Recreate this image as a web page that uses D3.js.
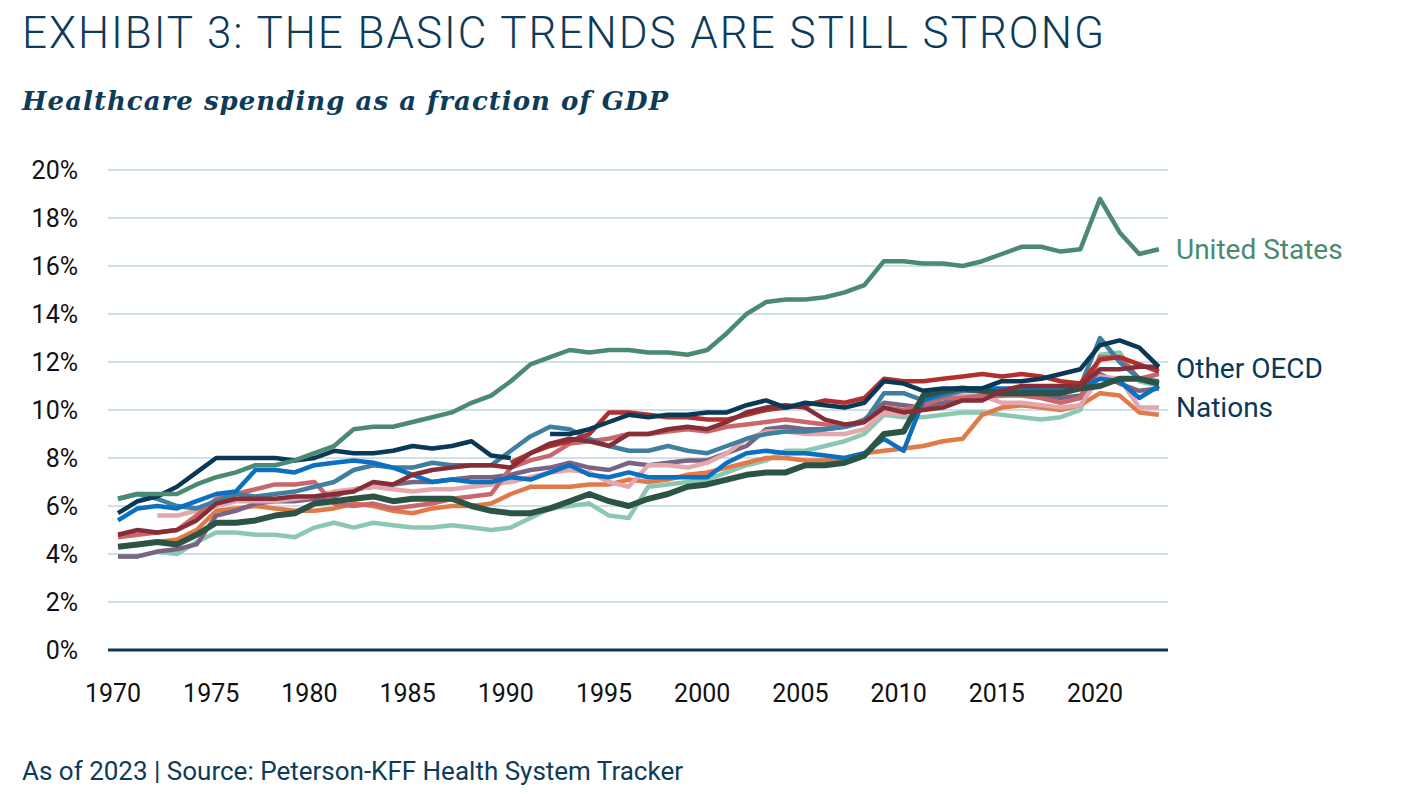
<!DOCTYPE html>
<html>
<head>
<meta charset="utf-8">
<script src="https://cdn.jsdelivr.net/npm/d3@7"></script>
<style>
  body { margin: 0; background: #fff; }
  text { font-family: "Liberation Sans Narrow", "Roboto", sans-serif; }
</style>
</head>
<body>
<svg id="chart" width="1401" height="794"></svg>
<script>
// years 1970..2023
var years = d3.range(1970, 2024);

var mint = [3.9,3.9,4.1,4.0,4.5,4.9,4.9,4.8,4.8,4.7,5.1,5.3,5.1,5.3,5.2,5.1,5.1,5.2,5.1,5.0,5.1,5.5,5.9,6.0,6.1,5.6,5.5,6.8,6.9,7.0,7.1,7.4,7.7,7.9,8.3,8.3,8.5,8.7,9.0,9.8,9.7,9.7,9.8,9.9,9.9,9.8,9.7,9.6,9.7,10.0,12.3,12.4,11.2,11.0];
var orange = [null,null,4.5,4.6,5.0,5.8,5.9,6.0,5.9,5.8,5.8,5.9,6.1,6.0,5.8,5.7,5.9,6.0,6.0,6.1,6.5,6.8,6.8,6.8,6.9,6.9,7.1,7.0,7.1,7.3,7.4,7.6,7.8,8.0,8.0,7.9,7.9,8.0,8.2,8.3,8.4,8.5,8.7,8.8,9.8,10.1,10.2,10.1,10.0,10.2,10.7,10.6,9.9,9.8];
var purple = [3.9,3.9,4.1,4.2,4.4,5.6,5.8,6.1,6.2,6.2,6.3,6.4,6.7,6.8,6.9,7.0,7.0,7.1,7.2,7.2,7.3,7.5,7.6,7.8,7.6,7.5,7.8,7.7,7.8,7.9,7.9,8.2,8.5,9.2,9.3,9.2,9.2,9.3,9.6,10.3,10.2,10.1,10.3,10.5,10.5,10.6,10.7,10.6,10.5,10.6,11.5,11.1,10.8,10.9];
var lightPink = [null,null,5.6,5.6,5.8,6.0,6.2,6.2,6.2,6.3,6.4,6.6,6.7,6.8,6.7,6.6,6.7,6.7,6.8,6.9,7.0,7.2,7.4,7.5,7.4,7.0,6.8,7.7,7.7,7.6,7.8,8.2,8.8,9.1,9.1,9.0,9.0,9.0,9.2,9.9,9.8,10.4,10.6,10.6,10.6,10.3,10.3,10.2,10.1,10.2,11.4,11.3,10.1,10.1];
var rose = [4.7,4.8,4.9,5.0,5.6,6.3,6.5,6.7,6.9,6.9,7.0,6.1,6.0,6.1,5.9,6.0,6.1,6.3,6.4,6.5,7.6,7.9,8.1,8.6,8.7,8.8,9.0,9.0,9.1,9.2,9.1,9.3,9.4,9.5,9.6,9.5,9.4,9.3,9.5,10.1,10.0,10.2,10.5,10.5,10.6,10.6,10.6,10.5,10.3,10.5,12.2,12.2,11.3,11.5];
var steel = [6.3,6.5,6.3,6.0,5.9,6.2,6.5,6.4,6.5,6.6,6.8,7.0,7.5,7.7,7.6,7.6,7.8,7.7,7.7,7.7,8.3,8.9,9.3,9.2,8.8,8.5,8.3,8.3,8.5,8.3,8.2,8.5,8.8,9.0,9.1,9.1,9.2,9.3,9.5,10.7,10.7,10.4,10.6,10.8,10.8,10.8,10.9,10.9,10.9,11.0,13.0,12.0,11.3,11.2];
var blue = [5.4,5.9,6.0,5.9,6.2,6.5,6.6,7.5,7.5,7.4,7.7,7.8,7.9,7.8,7.6,7.3,7.0,7.1,7.0,7.0,7.2,7.1,7.4,7.7,7.3,7.2,7.4,7.2,7.2,7.2,7.2,7.8,8.2,8.3,8.2,8.2,8.1,8.0,8.2,8.8,8.3,10.4,10.7,10.9,10.9,10.9,10.9,10.8,10.8,10.9,11.3,11.2,10.5,11.0];
var darkGreen = [4.3,4.4,4.5,4.4,4.8,5.3,5.3,5.4,5.6,5.7,6.1,6.2,6.3,6.4,6.2,6.3,6.3,6.3,6.0,5.8,5.7,5.7,5.9,6.2,6.5,6.2,6.0,6.3,6.5,6.8,6.9,7.1,7.3,7.4,7.4,7.7,7.7,7.8,8.1,9.0,9.1,10.6,10.8,10.9,10.8,10.7,10.7,10.7,10.7,10.9,11.0,11.3,11.3,11.1];
var red = [null,null,null,null,null,null,null,null,null,null,null,null,null,null,null,null,null,null,null,null,7.8,8.2,8.5,8.7,9.0,9.9,9.9,9.8,9.7,9.7,9.6,9.6,9.8,10.0,10.1,10.2,10.4,10.3,10.5,11.3,11.2,11.2,11.3,11.4,11.5,11.4,11.5,11.4,11.2,11.1,12.1,12.2,11.9,11.6];
var darkRed = [4.8,5.0,4.9,5.0,5.4,6.1,6.3,6.3,6.3,6.4,6.4,6.5,6.6,7.0,6.9,7.3,7.5,7.6,7.7,7.7,7.6,8.2,8.6,8.8,8.7,8.5,9.0,9.0,9.2,9.3,9.2,9.5,9.9,10.1,10.2,10.1,9.6,9.4,9.5,10.1,9.9,10.0,10.1,10.4,10.4,10.8,11.0,11.0,11.0,11.0,11.7,11.7,11.8,11.8];
var navy = [5.7,6.2,6.4,6.8,7.4,8.0,8.0,8.0,8.0,7.9,8.0,8.3,8.2,8.2,8.3,8.5,8.4,8.5,8.7,8.1,8.0,null,9.0,9.0,9.2,9.5,9.8,9.7,9.8,9.8,9.9,9.9,10.2,10.4,10.1,10.3,10.2,10.1,10.3,11.2,11.1,10.8,10.9,10.9,10.9,11.2,11.2,11.3,11.5,11.7,12.7,12.9,12.6,11.8];
var us = [6.3,6.5,6.5,6.5,6.9,7.2,7.4,7.7,7.7,7.9,8.2,8.5,9.2,9.3,9.3,9.5,9.7,9.9,10.3,10.6,11.2,11.9,12.2,12.5,12.4,12.5,12.5,12.4,12.4,12.3,12.5,13.2,14.0,14.5,14.6,14.6,14.7,14.9,15.2,16.2,16.2,16.1,16.1,16.0,16.2,16.5,16.8,16.8,16.6,16.7,18.8,17.4,16.5,16.7];

var series = [
  {v: mint, c: "#8cc8b0", w: 4.5},
  {v: orange, c: "#e07a48", w: 4.5},
  {v: purple, c: "#7a6484", w: 4.5},
  {v: lightPink, c: "#e3a7ad", w: 4.5},
  {v: rose, c: "#c9676d", w: 4.5},
  {v: steel, c: "#3f7f9f", w: 4.5},
  {v: blue, c: "#0b6fc2", w: 4.5},
  {v: darkGreen, c: "#2b5445", w: 6},
  {v: red, c: "#b0302e", w: 4.5},
  {v: darkRed, c: "#862d38", w: 4.5},
  {v: navy, c: "#0a3857", w: 4.5},
  {v: us, c: "#4a8a72", w: 4.5}
];
var yTicks = [0, 2, 4, 6, 8, 10, 12, 14, 16, 18, 20];
var xTicks = [1970, 1975, 1980, 1985, 1990, 1995, 2000, 2005, 2010, 2015, 2020];

var svg = d3.select("#chart");
var x = d3.scaleLinear().domain([1970, 2020]).range([118, 1100]);
var y = d3.scaleLinear().domain([0, 20]).range([650, 170]);

svg.append("text").attr("x", 22).attr("y", 48).attr("fill", "#0d3b5a")
  .style("font-family", "'Roboto', sans-serif").style("font-weight", 300)
  .attr("font-size", 44).attr("textLength", 1082)
  .text("EXHIBIT 3: THE BASIC TRENDS ARE STILL STRONG");
svg.append("text").attr("x", 22).attr("y", 110).attr("fill", "#0d3b5a")
  .style("font-family", "'DejaVu Serif', serif").style("font-weight", "bold").style("font-style", "italic")
  .attr("font-size", 26).attr("textLength", 646)
  .text("Healthcare spending as a fraction of GDP");

// grid
svg.selectAll(".grid").data(yTicks.filter(d => d > 0)).enter().append("line")
  .attr("x1", 108).attr("x2", 1168).attr("y1", d => y(d)).attr("y2", d => y(d))
  .attr("stroke", "#cfe0ea").attr("stroke-width", 2);

svg.selectAll(".yl").data(yTicks).enter().append("text")
  .attr("x", 78).attr("y", d => y(d) + 9).attr("text-anchor", "end")
  .attr("font-size", 25).attr("fill", "#111").text(d => d + "%");
svg.selectAll(".xl").data(xTicks).enter().append("text")
  .attr("x", d => x(d) - 5).attr("y", 702).attr("text-anchor", "middle")
  .attr("font-size", 25).attr("fill", "#111").text(d => d);

var line = d3.line().defined(d => d[1] != null).x(d => x(d[0])).y(d => y(d[1]));
series.forEach(function(s) {
  svg.append("path").datum(years.map((yr, i) => [yr, s.v[i]]))
    .attr("d", line).attr("fill", "none").attr("stroke", s.c)
    .attr("stroke-width", s.w).attr("stroke-linejoin", "round");
});

svg.append("line").attr("x1", 108).attr("x2", 1168).attr("y1", y(0)).attr("y2", y(0))
  .attr("stroke", "#0a3857").attr("stroke-width", 3);

svg.append("text").attr("x", 1176).attr("y", 259).attr("font-size", 28).attr("fill", "#4a8a72").text("United States");
svg.append("text").attr("x", 1176).attr("y", 378).attr("font-size", 28).attr("fill", "#0a3857").text("Other OECD");
svg.append("text").attr("x", 1176).attr("y", 417).attr("font-size", 28).attr("fill", "#0a3857").text("Nations");

svg.append("text").attr("x", 22).attr("y", 780).attr("font-size", 26).attr("fill", "#0d3b5a")
  .text("As of 2023 | Source: Peterson-KFF Health System Tracker");
</script>
</body>
</html>
